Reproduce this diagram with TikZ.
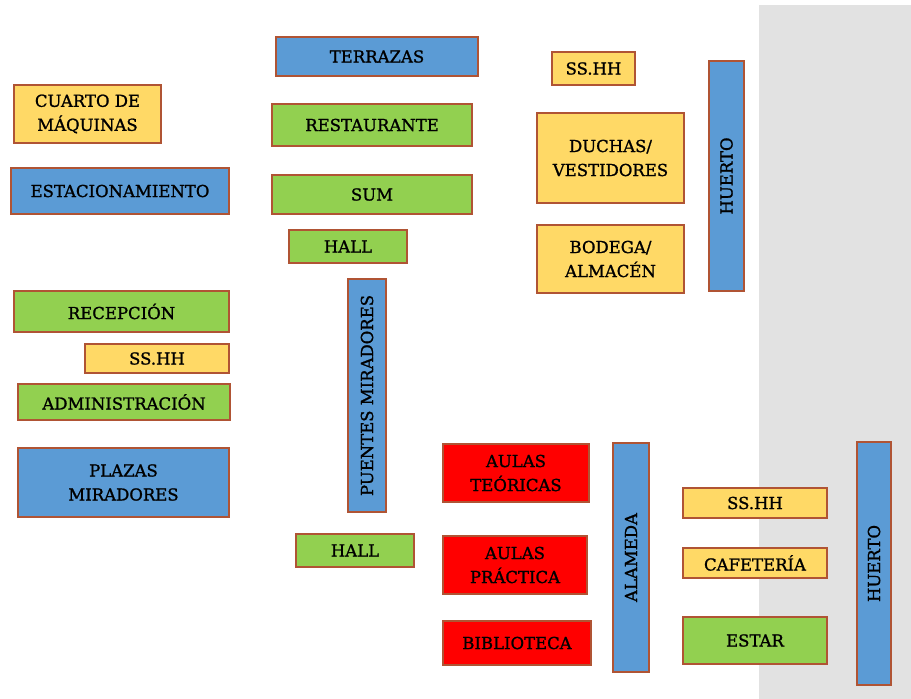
\documentclass[tikz,border=0pt]{standalone}
\usepackage{fontspec}
\setmainfont{DejaVu Serif}
\newfontfamily\rotulo{DejaVu Serif}[FakeBold=1.2]
\usepackage{pgf,tikz}
\usetikzlibrary{shapes, positioning}
\definecolor{amarillo}{RGB}{255,217,102}
\definecolor{azul}{RGB}{91,155,213}
\definecolor{verde}{RGB}{146,208,80}
\definecolor{rojo}{RGB}{255,0,0}
\definecolor{borde}{RGB}{176,84,52}
\definecolor{fondo}{RGB}{226,226,226}
\tikzstyle{zona} = [draw=borde, line width=1.6pt, rectangle, inner sep=0pt, align=center, font=\rotulo\fontsize{16.5}{24}\selectfont, text=black]
\tikzstyle{servicio} = [zona, fill=amarillo]
\tikzstyle{exterior} = [zona, fill=azul]
\tikzstyle{social} = [zona, fill=verde]
\tikzstyle{aula} = [zona, fill=rojo]

\begin{document}
\begin{tikzpicture}[x=1pt, y=-1pt]
	\useasboundingbox (0,0) rectangle (911,699);
	\fill[fondo] (759,5) rectangle (911,699);
	% columna izquierda
	\node[servicio, minimum width=147pt, minimum height=58pt] (cuarto) at (87.5,114) {CUARTO DE\\MÁQUINAS};
	\node[exterior, minimum width=218pt, minimum height=46pt] (estacionamiento) at (120,191) {ESTACIONAMIENTO};
	\node[social, minimum width=215pt, minimum height=41pt] (recepcion) at (121.5,311.5) {RECEPCIÓN};
	\node[servicio, minimum width=144pt, minimum height=29pt] (sshhadm) at (157,358.5) {SS.HH};
	\node[social, minimum width=212pt, minimum height=36pt] (administracion) at (124,402) {ADMINISTRACIÓN};
	\node[exterior, minimum width=211pt, minimum height=69pt] (plazas) at (123.5,482.5) {PLAZAS\\MIRADORES};
	% columna central
	\node[exterior, minimum width=202pt, minimum height=39pt] (terrazas) at (377,56.5) {TERRAZAS};
	\node[social, minimum width=200pt, minimum height=42pt] (restaurante) at (372,125) {RESTAURANTE};
	\node[social, minimum width=200pt, minimum height=39pt] (sum) at (372,194.5) {SUM};
	\node[social, minimum width=118pt, minimum height=33pt] (hallsup) at (348,246.5) {HALL};
	\node[exterior, rotate=90, minimum width=233pt, minimum height=38pt] (puentes) at (367,395.5) {PUENTES MIRADORES};
	\node[social, minimum width=118pt, minimum height=33pt] (hallinf) at (355,550.5) {HALL};
	% bloque deportivo
	\node[servicio, minimum width=83pt, minimum height=33pt] (sshhdep) at (593.5,68.5) {SS.HH};
	\node[servicio, minimum width=147pt, minimum height=90pt] (duchas) at (610.5,158) {DUCHAS/\\VESTIDORES};
	\node[servicio, minimum width=147pt, minimum height=68pt] (bodega) at (610.5,259) {BODEGA/\\ALMACÉN};
	\node[exterior, rotate=90, minimum width=230pt, minimum height=35pt] (huertosup) at (726.5,176) {HUERTO};
	% bloque educativo
	\node[aula, minimum width=146pt, minimum height=58pt] (teoricas) at (516,473) {AULAS\\TEÓRICAS};
	\node[aula, minimum width=144pt, minimum height=58pt] (practica) at (515,565) {AULAS\\PRÁCTICA};
	\node[aula, minimum width=148pt, minimum height=44pt] (biblioteca) at (517,643) {BIBLIOTECA};
	\node[exterior, rotate=90, minimum width=229pt, minimum height=36pt] (alameda) at (631,557.5) {ALAMEDA};
	\node[servicio, minimum width=144pt, minimum height=30pt] (sshhcaf) at (755,503) {SS.HH};
	\node[servicio, minimum width=144pt, minimum height=30pt] (cafeteria) at (755,563) {CAFETERÍA};
	\node[social, minimum width=144pt, minimum height=47pt] (estar) at (755,640.5) {ESTAR};
	\node[exterior, rotate=90, minimum width=243pt, minimum height=34pt] (huertoinf) at (874,563.5) {HUERTO};
\end{tikzpicture}
\end{document}
